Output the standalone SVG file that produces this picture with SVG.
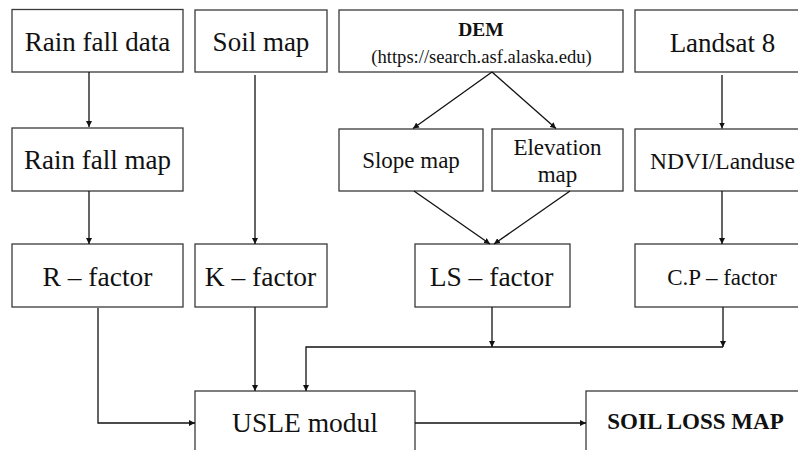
<svg xmlns="http://www.w3.org/2000/svg" width="798" height="450" viewBox="0 0 798 450">
<style>
.box{fill:#fff;stroke:#3a3a3a;stroke-width:1.3}
.t{font-family:"Liberation Serif","Times New Roman",serif;fill:#111;text-anchor:middle}
.b{font-weight:bold}
.c{fill:none;stroke:#111;stroke-width:1.3}
</style>
<defs>
<marker id="ah" viewBox="0 0 10 10" refX="10" refY="5" markerWidth="6" markerHeight="6" markerUnits="userSpaceOnUse" orient="auto">
<path d="M0,0 L10,5 L0,10 z" fill="#111"/>
</marker>
</defs>
<rect width="798" height="450" fill="#fff"/>
<g id="rainfall-data"><rect class="box" x="12" y="9.5" width="171" height="62.5"/><text class="t" x="97.5" y="51" font-size="27">Rain fall data</text></g>
<g id="soil-map"><rect class="box" x="195" y="10" width="132" height="62"/><text class="t" x="261" y="51" font-size="27">Soil map</text></g>
<g id="dem"><rect class="box" x="339" y="10" width="284" height="62"/><text class="t b" x="481" y="36" font-size="19.5">DEM</text><text class="t" x="481.5" y="63" font-size="18.6">(https://search.asf.alaska.edu)</text></g>
<g id="landsat"><rect class="box" x="635" y="10" width="180" height="62"/><text class="t" x="722.5" y="52" font-size="27">Landsat 8</text></g>
<g id="rainfall-map"><rect class="box" x="12" y="128" width="171" height="63"/><text class="t" x="97.5" y="169" font-size="27">Rain fall map</text></g>
<g id="slope-map"><rect class="box" x="339" y="129" width="144" height="62"/><text class="t" x="411" y="168" font-size="23">Slope map</text></g>
<g id="elevation-map"><rect class="box" x="492" y="129" width="131" height="62"/><text class="t" x="557.5" y="155" font-size="23">Elevation</text><text class="t" x="557.5" y="182" font-size="23">map</text></g>
<g id="ndvi"><rect class="box" x="635" y="129" width="180" height="62"/><text class="t" x="722.5" y="169" font-size="23.5">NDVI/Landuse</text></g>
<g id="r-factor"><rect class="box" x="12" y="244" width="171" height="63"/><text class="t" x="97.5" y="286" font-size="27.5">R – factor</text></g>
<g id="k-factor"><rect class="box" x="195" y="244" width="132" height="63"/><text class="t" x="260.5" y="286" font-size="27.5">K – factor</text></g>
<g id="ls-factor"><rect class="box" x="415" y="244" width="155" height="63"/><text class="t" x="491.5" y="286" font-size="27.5">LS – factor</text></g>
<g id="cp-factor"><rect class="box" x="635" y="244" width="180" height="63"/><text class="t" x="722" y="285" font-size="23">C.P – factor</text></g>
<g id="usle"><rect class="box" x="195" y="391" width="220" height="70"/><text class="t" x="305" y="432" font-size="27.5">USLE modul</text></g>
<g id="soil-loss-map"><rect class="box" x="586" y="391" width="230" height="70"/><text class="t b" x="695.5" y="429" font-size="23">SOIL LOSS MAP</text></g>
<g id="connectors">
<path class="c" d="M89,72 V127" marker-end="url(#ah)"/>
<path class="c" d="M89,191 V244" marker-end="url(#ah)"/>
<path class="c" d="M255,75 V244" marker-end="url(#ah)"/>
<path class="c" d="M492,72 L413,128.5" marker-end="url(#ah)"/>
<path class="c" d="M492,72 L556,128.5" marker-end="url(#ah)"/>
<path class="c" d="M722,75 V128.5" marker-end="url(#ah)"/>
<path class="c" d="M722,191 V244" marker-end="url(#ah)"/>
<path class="c" d="M414,191 L490,244" marker-end="url(#ah)"/>
<path class="c" d="M570,191 L494,244" marker-end="url(#ah)"/>
<path class="c" d="M492,307 V347" marker-end="url(#ah)"/>
<path class="c" d="M723,307 V347" marker-end="url(#ah)"/>
<path class="c" d="M723,347 H306 V391" marker-end="url(#ah)"/>
<path class="c" d="M255,307 V391" marker-end="url(#ah)"/>
<path class="c" d="M98,308 V423 H195" marker-end="url(#ah)"/>
<path class="c" d="M415,423 H586" marker-end="url(#ah)"/>
</g>
</svg>
